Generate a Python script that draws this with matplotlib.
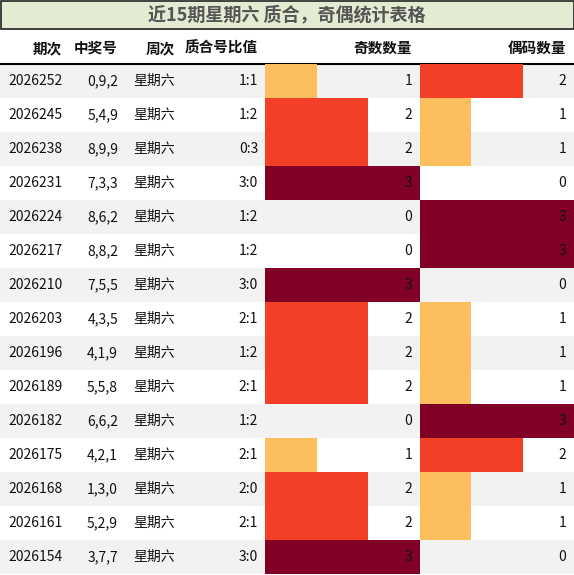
import matplotlib
matplotlib.use("Agg")
import matplotlib.pyplot as plt
from matplotlib.patches import Rectangle

plt.rcParams['font.family'] = ['Noto Sans CJK SC', 'DejaVu Sans']

issues = ["2026252","2026245","2026238","2026231","2026224","2026217","2026210","2026203",
          "2026196","2026189","2026182","2026175","2026168","2026161","2026154"]
numbers = ["0,9,2","5,4,9","8,9,9","7,3,3","8,6,2","8,8,2","7,5,5","4,3,5",
           "4,1,9","5,5,8","6,6,2","4,2,1","1,3,0","5,2,9","3,7,7"]
weekday = ["星期六"] * 15
ratios = ["1:1","1:2","0:3","3:0","1:2","1:2","3:0","2:1","1:2","2:1","1:2","2:1","2:0","2:1","3:0"]
odd_counts = [1,2,2,3,0,0,3,2,2,2,0,1,2,2,3]
even_counts = [2,1,1,0,3,3,0,1,1,1,3,2,1,1,0]
headers = ["期次","中奖号","周次","质合号比值","奇数数量","偶码数量"]
title = "近15期星期六 质合，奇偶统计表格"

W, H = 574, 575
colors = {1: "#FDBF5E", 2: "#F43F28", 3: "#800026"}
fig = plt.figure(figsize=(W/100, H/100), dpi=100)
ax = fig.add_axes([0, 0, 1, 1])
ax.set_xlim(0, W); ax.set_ylim(H, 0); ax.axis('off')

top0, hdr_h, row_h = 30, 34, 34
ax.add_patch(Rectangle((0.5, 0.5), W-1, 28, facecolor="#E3EBD3", edgecolor="#222222", lw=1.2))
ax.text(W/2, 15, title, ha='center', va='center', fontsize=13, fontweight='bold', color='#555555')

hx = [62, 118, 175, 258, 412, 566]
for x, h in zip(hx, headers):
    ax.text(x, top0 + hdr_h/2 + 1, h, ha='right', va='center', fontsize=10.5, fontweight='bold', color='#111111')
ystart = top0 + hdr_h
for i in range(len(issues)):
    y = ystart + i*row_h
    if i % 2 == 0:
        ax.add_patch(Rectangle((0, y), W, row_h, facecolor="#F2F2F2", edgecolor='none'))
    yc = y + row_h/2
    ax.text(8, yc, issues[i], ha='left', va='center', fontsize=10, color='#111111')
    ax.text(118, yc, numbers[i], ha='right', va='center', fontsize=10, color='#111111')
    ax.text(133, yc, weekday[i], ha='left', va='center', fontsize=10, color='#111111')
    ax.text(258, yc, ratios[i], ha='right', va='center', fontsize=10, color='#111111')
ax.plot([0, W], [ystart, ystart], color='black', lw=1.5)

n = len(issues)
def bar_axes(x0, x1, vals, tx):
    bx = fig.add_axes([x0/W, 1 - (ystart + n*row_h)/H, (x1-x0)/W, n*row_h/H])
    bx.set_xlim(0, 3); bx.set_ylim(n - 0.5, -0.5); bx.axis('off')
    bx.patch.set_alpha(0)
    bx.barh(range(n), vals, height=1.0, left=0, color=[colors.get(v, 'none') for v in vals])
    for i, v in enumerate(vals):
        bx.text(tx, i, str(v), ha='right', va='center', fontsize=10, color='#111111',
                transform=bx.get_yaxis_transform() if False else bx.transData)
    return bx
bar_axes(265, 420, odd_counts, 3 * (412-265)/(420-265))
bar_axes(420, 574, even_counts, 3 * (566-420)/(574-420))

fig.savefig("out.png", dpi=100)
